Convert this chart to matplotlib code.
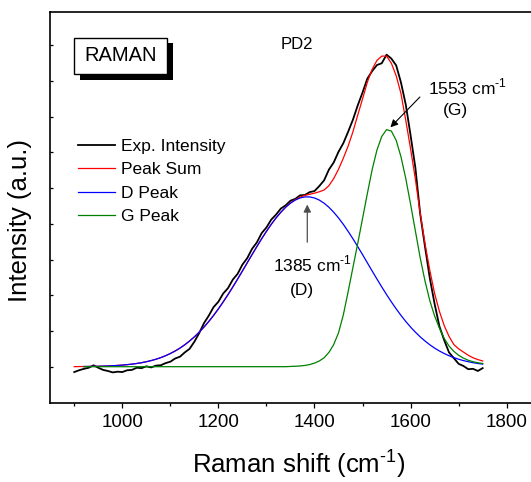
import matplotlib
matplotlib.use('Agg')
import matplotlib.pyplot as plt
from matplotlib.patches import Rectangle
import numpy as np

plt.rcParams['font.family'] = ['Liberation Sans', 'DejaVu Sans']
plt.rcParams['mathtext.fontset'] = 'custom'
plt.rcParams['mathtext.rm'] = 'Liberation Sans'

# Raman shift grid (cm-1), spectrum measured 900-1750
shift = np.arange(900, 1751, 10)

# experimental intensity (a.u., baseline = 0)
exp_int = [-0.15, -0.10, -0.06, -0.03, 0.04, -0.03, -0.09, -0.12, -0.16, -0.14,
           -0.15, -0.10, -0.09, -0.03, -0.04, 0.01, -0.02, 0.03, 0.04, 0.10,
           0.14, 0.23, 0.28, 0.40, 0.50, 0.70, 0.94, 1.22, 1.43, 1.67,
           1.82, 2.05, 2.20, 2.44, 2.60, 2.86, 3.04, 3.30, 3.48, 3.74,
           3.90, 4.12, 4.26, 4.43, 4.52, 4.65, 4.70, 4.80, 4.81, 4.89,
           4.92, 5.06, 5.22, 5.52, 5.72, 6.02, 6.26, 6.58, 6.92, 7.32,
           7.68, 8.07, 8.28, 8.45, 8.50, 8.74, 8.63, 8.44, 7.96, 7.34,
           6.48, 5.57, 4.28, 3.36, 2.48, 1.76, 1.13, 0.74, 0.40, 0.24,
           0.08, 0.02, -0.07, -0.06, -0.12, -0.04]

# fitted peak sum
peak_sum = [0.00, 0.004, 0.005, 0.007, 0.009, 0.012, 0.016, 0.021, 0.027, 0.035,
            0.045, 0.057, 0.072, 0.090, 0.112, 0.139, 0.171, 0.209, 0.254, 0.307,
            0.369, 0.440, 0.521, 0.614, 0.719, 0.836, 0.967, 1.110, 1.267, 1.437,
            1.620, 1.815, 2.020, 2.234, 2.455, 2.681, 2.910, 3.139, 3.364, 3.583,
            3.791, 3.988, 4.167, 4.327, 4.47, 4.59, 4.68, 4.75, 4.80, 4.83,
            4.86, 4.90, 4.95, 5.07, 5.27, 5.53, 5.84, 6.18, 6.58, 7.05,
            7.50, 7.97, 8.33, 8.58, 8.70, 8.70, 8.50, 8.15, 7.65, 6.90,
            6.10, 5.25, 4.30, 3.45, 2.70, 2.05, 1.55, 1.15, 0.85, 0.62,
            0.50, 0.41, 0.32, 0.25, 0.20, 0.16]

# fitted components, drawn from 920 cm-1
fit_shift = shift[2:]
d_peak = [0.005, 0.007, 0.009, 0.012, 0.016, 0.021, 0.027, 0.035,
          0.045, 0.057, 0.072, 0.090, 0.112, 0.139, 0.171, 0.209, 0.254, 0.307,
          0.369, 0.440, 0.521, 0.614, 0.719, 0.836, 0.967, 1.110, 1.267, 1.437,
          1.620, 1.815, 2.020, 2.234, 2.455, 2.681, 2.910, 3.139, 3.364, 3.583,
          3.791, 3.988, 4.167, 4.327, 4.466, 4.580, 4.667, 4.726, 4.756, 4.756,
          4.726, 4.667, 4.580, 4.466, 4.327, 4.167, 3.988, 3.791, 3.583, 3.364,
          3.139, 2.910, 2.681, 2.455, 2.234, 2.020, 1.815, 1.620, 1.437, 1.267,
          1.110, 0.967, 0.836, 0.719, 0.614, 0.521, 0.440, 0.369, 0.307, 0.254,
          0.209, 0.171, 0.139, 0.112, 0.090, 0.072]
g_peak = [0.0] * 43 + [
          0.007, 0.012, 0.02, 0.035, 0.06, 0.10, 0.16, 0.25, 0.40, 0.62,
          0.95, 1.45, 2.10, 2.78, 3.45, 4.15, 4.85, 5.52, 6.07, 6.45,
          6.64, 6.60, 6.34, 5.88, 5.27, 4.55, 3.80, 3.05, 2.40, 1.85,
          1.42, 1.08, 0.79, 0.58, 0.43, 0.32, 0.24, 0.18, 0.14, 0.11, 0.09]

W, H = 531, 482
fig = plt.figure(figsize=(W / 100, H / 100), dpi=100)
ax = fig.add_axes([50 / W, 79 / H, 482 / W, 390.7 / H])

ax.plot(shift, exp_int, color='black', lw=1.3, label='Exp. Intensity', zorder=2)
ax.plot(shift, peak_sum, color='#ff0000', lw=0.9, label='Peak Sum', zorder=3)
ax.plot(fit_shift, d_peak, color='#0000ff', lw=0.9, label='D Peak', zorder=4)
ax.plot(fit_shift, g_peak, color='#008000', lw=0.9, label='G Peak', zorder=5)

ax.set_xlim(849.5, 1852.7)
ax.set_ylim(-1.017, 9.927)
ax.set_xticks([1000, 1200, 1400, 1600, 1800])
ax.set_xticks([900, 1100, 1300, 1500, 1700], minor=True)
ax.set_yticks(range(0, 10))
ax.set_yticklabels([])
ax.tick_params(axis='x', which='major', direction='out', length=3.6, width=0.9,
               labelsize=13.5, pad=4)
ax.tick_params(axis='x', which='minor', direction='out', length=2.2, width=0.9)
ax.tick_params(axis='y', direction='in', length=2.2, width=0.9)
ax.spines['right'].set_visible(False)
for s in ['left', 'top', 'bottom']:
    ax.spines[s].set_linewidth(1.2)

ax.legend(loc='upper left', bbox_to_anchor=(77.7 / W, 0.7116), bbox_transform=fig.transFigure,
          frameon=False, fontsize=12.5, handlelength=2.15, handletextpad=0.35,
          labelspacing=0.47, borderpad=0, borderaxespad=0)

# peak annotations
ax.annotate('', xy=(1554, 6.65), xytext=(1623.4, 7.61),
            arrowprops=dict(arrowstyle='-|>', color='black', lw=0.8, mutation_scale=11))
ax.text(1636.4, 7.63, '1553 cm$^{\\text{-1}}$', fontsize=12.5, ha='left', va='baseline')
ax.text(1692.4, 7.06, '(G)', fontsize=12.5, ha='center', va='baseline')
ax.annotate('', xy=(1385, 4.62), xytext=(1385, 3.41),
            arrowprops=dict(arrowstyle='-|>', color='0.3', lw=0.9, mutation_scale=11))
ax.text(1314.4, 2.66, '1385 cm$^{\\text{-1}}$', fontsize=12.5, ha='left', va='baseline')
ax.text(1373.4, 2.02, '(D)', fontsize=12.5, ha='center', va='baseline')

# RAMAN box with shadow
fig.add_artist(Rectangle((80.3 / W, (H - 79.5) / H), 92.4 / W, 36.3 / H,
                         transform=fig.transFigure, facecolor='black', edgecolor='black', lw=0))
fig.add_artist(Rectangle((74.3 / W, (H - 74) / H), 92.4 / W, 36.3 / H,
                         transform=fig.transFigure, facecolor='white', edgecolor='black', lw=1.0))
fig.text(120.3 / W, (H - 55.8) / H, 'RAMAN', fontsize=14.5, ha='center', va='center')
fig.text(297 / W, (H - 44.7) / H, 'PD2', fontsize=12, ha='center', va='center')

fig.text(20.5 / W, (H - 220) / H, 'Intensity (a.u.)', fontsize=18.5, rotation=90,
         ha='center', va='center')
fig.text(298.5 / W, (H - 473) / H, 'Raman shift (cm$^{\\text{-1}}$)', fontsize=18.5,
         ha='center', va='baseline')

fig.savefig('out.png', dpi=100)
